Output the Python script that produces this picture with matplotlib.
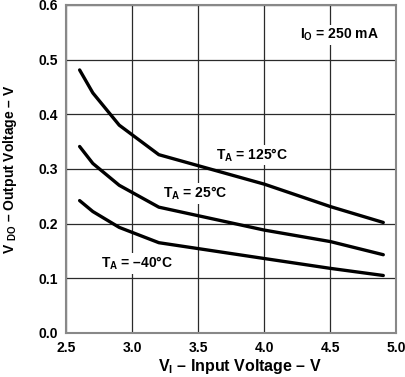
import matplotlib
matplotlib.use("Agg")
import matplotlib.pyplot as plt

plt.rcParams['font.family'] = ['Liberation Sans', 'DejaVu Sans']
plt.rcParams['mathtext.fontset'] = 'custom'
plt.rcParams['mathtext.rm'] = 'Liberation Sans:bold'
plt.rcParams['mathtext.it'] = 'Liberation Sans:bold'
plt.rcParams['mathtext.bf'] = 'Liberation Sans:bold'

vin = [2.6, 2.7, 2.9, 3.2, 4.0, 4.5, 4.9]
vdo_125 = [0.481, 0.439, 0.380, 0.326, 0.272, 0.231, 0.202]
vdo_25 = [0.341, 0.310, 0.270, 0.230, 0.188, 0.167, 0.143]
vdo_m40 = [0.242, 0.222, 0.193, 0.165, 0.136, 0.118, 0.105]

xticks = [2.5, 3.0, 3.5, 4.0, 4.5, 5.0]
yticks = [0.0, 0.1, 0.2, 0.3, 0.4, 0.5, 0.6]

fig = plt.figure(figsize=(4.05, 3.77), dpi=100)
ax = fig.add_axes([0.164, 0.117, 0.815, 0.870])
ax.set_xlim(2.5, 5.0)
ax.set_ylim(0.0, 0.6)
ax.set_xticks(xticks)
ax.set_yticks(yticks)
ax.set_xticklabels([f"{v:.1f}" for v in xticks], fontweight='bold', fontsize=10)
ax.set_yticklabels([f"{v:.1f}" for v in yticks], fontweight='bold', fontsize=10)
ax.tick_params(length=0, pad=6)
ax.grid(True, color='#2a2a2a', linewidth=0.9)
for s in ax.spines.values():
    s.set_color('#888888')
    s.set_linewidth(1.5)

for y in (vdo_125, vdo_25, vdo_m40):
    ax.plot(vin, y, color='black', linewidth=2.4, solid_capstyle='round', zorder=3)

fig.text(0.592, 0.003, "V$_\\mathregular{I}$ – Input Voltage – V", fontweight='bold',
         fontsize=11.5, ha='center', va='bottom')
ax.set_ylabel("V $_\\mathregular{DO}$ – Output Voltage – V", fontweight='bold', fontsize=10,
              labelpad=14)

bbox = dict(facecolor='white', edgecolor='none', pad=1)
ax.text(4.27, 0.545, "I$_\\mathregular{O}$ = 250 mA", fontweight='bold', fontsize=10, va='center', bbox=bbox)
ax.text(3.63, 0.325, "T$_\\mathregular{A}$ = 125°C", fontweight='bold', fontsize=10, va='center', bbox=bbox)
ax.text(3.23, 0.255, "T$_\\mathregular{A}$ = 25°C", fontweight='bold', fontsize=10, va='center', bbox=bbox)
ax.text(2.76, 0.127, "T$_\\mathregular{A}$ = –40°C", fontweight='bold', fontsize=10, va='center', bbox=bbox)

fig.savefig("out.png", dpi=100)
